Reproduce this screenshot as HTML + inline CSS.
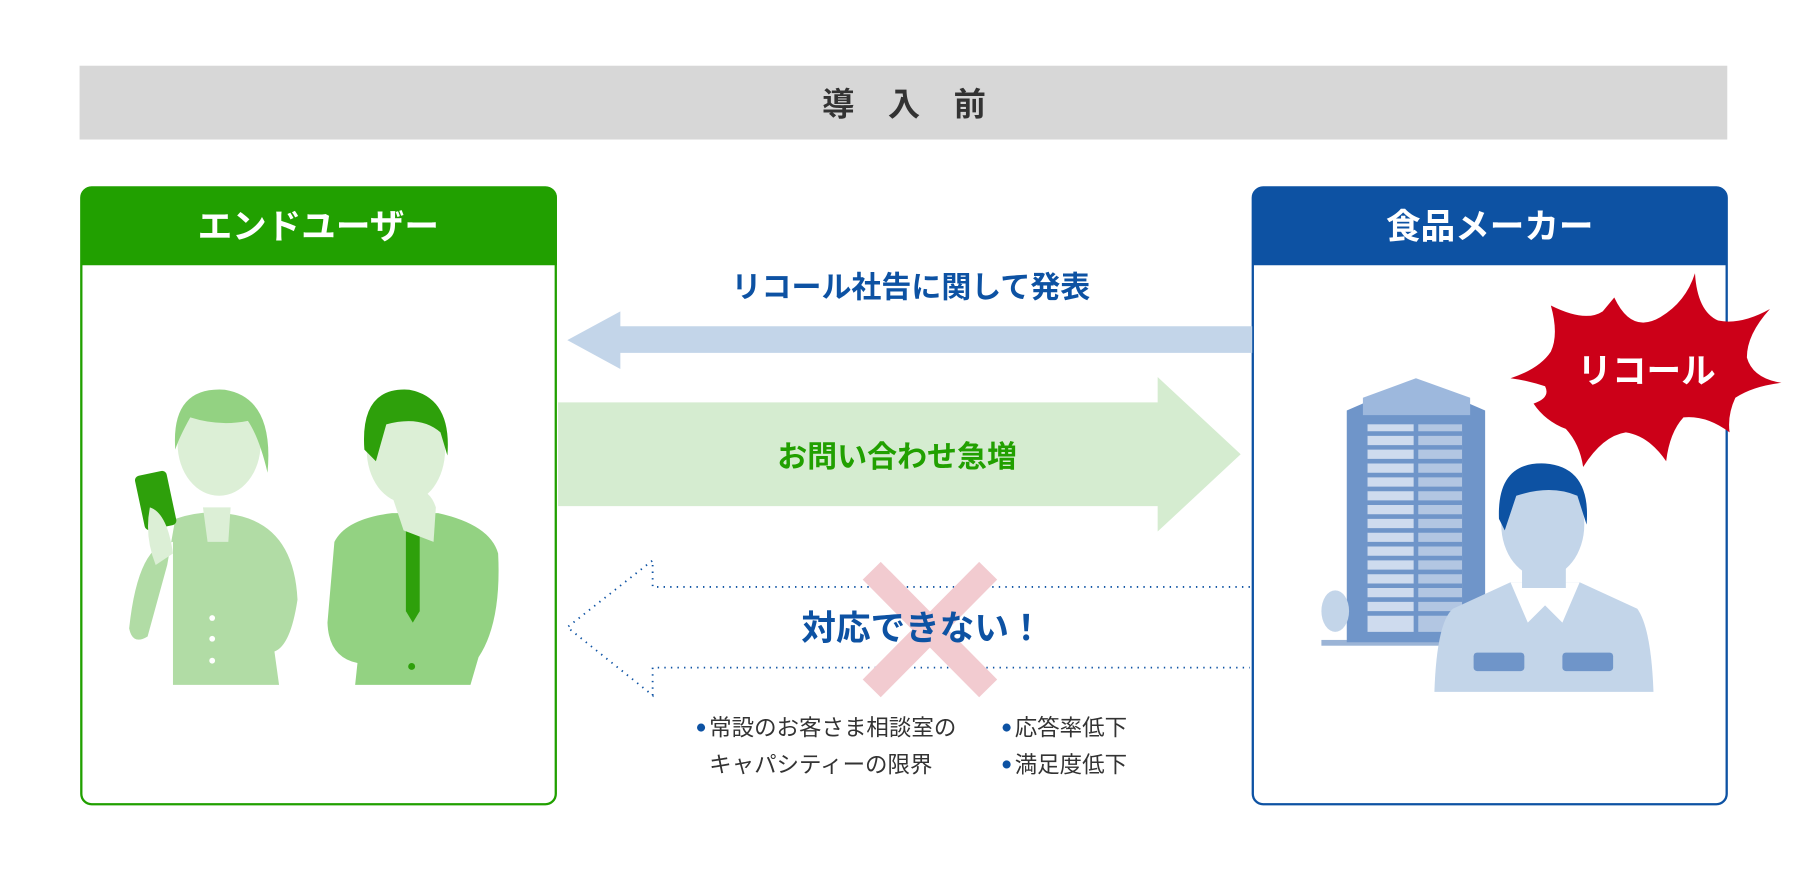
<!DOCTYPE html>
<html><head><meta charset="utf-8"><style>
html,body{margin:0;padding:0;background:#fff;width:1808px;height:880px;overflow:hidden}
svg{display:block}
text{font-family:"Liberation Sans","Noto Sans CJK JP",sans-serif}
</style></head><body>
<svg width="1808" height="880" viewBox="0 0 1568 763.2" xmlns="http://www.w3.org/2000/svg">
<rect x="69" y="57" width="1429" height="64" fill="#d7d7d7"/>
<text x="727" y="100" font-size="28" font-weight="bold" fill="#333" text-anchor="middle">導</text>
<text x="784" y="100" font-size="28" font-weight="bold" fill="#333" text-anchor="middle">入</text>
<text x="841" y="100" font-size="28" font-weight="bold" fill="#333" text-anchor="middle">前</text>

<!-- green box -->
<rect x="70.5" y="162.5" width="411.5" height="535" rx="9" fill="#fff" stroke="#21a000" stroke-width="2"/>
<path d="M70 230 V171 a9 9 0 0 1 9 -9 H474 a9 9 0 0 1 9 9 V230 Z" fill="#21a000"/>
<text x="276" y="207" font-size="30" font-weight="bold" fill="#fff" text-anchor="middle">エンドユーザー</text>

<!-- blue box -->
<rect x="1086.5" y="162.5" width="411" height="535" rx="9" fill="#fff" stroke="#0d52a3" stroke-width="2"/>
<path d="M1086 230 V171 a9 9 0 0 1 9 -9 H1489 a9 9 0 0 1 9 9 V230 Z" fill="#0d52a3"/>
<text x="1292" y="207" font-size="30" font-weight="bold" fill="#fff" text-anchor="middle">食品メーカー</text>

<!-- blue arrow -->
<text x="790" y="258" font-size="26" font-weight="bold" fill="#0d52a3" text-anchor="middle">リコール社告に関して発表</text>
<polygon points="1086,283 538,283 538,270 492,295 538,320 538,306 1086,306" fill="#c3d5e9"/>

<!-- green arrow -->
<polygon points="484,349 1004,349 1004,327 1076,394 1004,461 1004,439 484,439" fill="#d5ecd0"/>
<text x="778" y="405" font-size="26" font-weight="bold" fill="#21a000" text-anchor="middle">お問い合わせ急増</text>

<!-- dotted arrow -->
<g fill="none" stroke="#0d52a3" stroke-width="1.6" stroke-dasharray="1.2 4.5">
<path d="M1084 509 H566 V486 L492 544 L566 603 V579 H1084"/>
</g>
<g stroke="#f2cbd0" stroke-width="22">
<line x1="756" y1="495" x2="857" y2="597"/><line x1="857" y1="495" x2="756" y2="597"/>
</g>
<text x="800" y="555" font-size="30" font-weight="bold" fill="#0d52a3" text-anchor="middle">対応できない！</text>

<g font-size="19.5" fill="#333">
<circle cx="608" cy="631" r="3.5" fill="#0d52a3"/>
<text x="615" y="638">常設のお客さま相談室の</text>
<text x="615" y="670">キャパシティーの限界</text>
<circle cx="873" cy="631" r="3.5" fill="#0d52a3"/>
<text x="880" y="638">応答率低下</text>
<circle cx="873" cy="663" r="3.5" fill="#0d52a3"/>
<text x="880" y="670">満足度低下</text>
</g>

<!-- people left -->
<g>
<path d="M150 594 L150 470 Q120 470 112 545 Q115 560 128 552 L145 490 L152 450 Q180 440 210 448 Q255 460 258 520 Q252 560 238 565 L242 594 Z" fill="#b1dca5"/>
<ellipse cx="190" cy="385" rx="36" ry="45" fill="#dcefd6"/>
<path d="M152 390 Q148 335 195 338 Q238 345 232 410 Q225 380 215 365 Q190 370 165 362 Q155 380 152 390Z" fill="#93d282"/>
<path d="M176 440 L200 440 L198 470 L180 470Z" fill="#dcefd6"/>
<rect x="121" y="410" width="28" height="48" rx="4" fill="#2ea00b" transform="rotate(-12 135 434)"/>
<path d="M130 440 Q145 445 150 480 L135 490 Q125 465 130 440Z" fill="#dcefd6"/>
<circle cx="184" cy="536" r="2.5" fill="#fff"/><circle cx="184" cy="554" r="2.5" fill="#fff"/><circle cx="184" cy="573" r="2.5" fill="#fff"/>
</g>
<g>
<path d="M308 594 L310 575 Q285 570 284 540 L290 470 Q300 450 340 445 L380 445 Q425 455 432 480 Q435 540 415 570 L408 594 Z" fill="#93d282"/>
<polygon points="352,455 364,455 364,530 358,540 352,530" fill="#2ea00b"/>
<ellipse cx="352" cy="390" rx="34" ry="46" fill="#dcefd6"/>
<path d="M316 390 Q312 335 355 338 Q392 345 388 395 L382 375 Q365 360 335 368 L326 400Z" fill="#2ea00b"/>
<path d="M340 430 Q370 415 378 440 L376 470 L350 460Z" fill="#dcefd6"/>
<circle cx="357" cy="578" r="3" fill="#2ea00b"/>
</g>

<!-- building -->
<g>
<rect x="1146" y="555" width="110" height="5" fill="#9bb4d6"/>
<polygon points="1168,356 1228,330 1288,356 1288,557 1168,557" fill="#6f95c9"/>
<polygon points="1182,345 1228,328 1275,345 1275,360 1182,360" fill="#9db8dd"/>
<g fill="#dfe8f4">
<rect x="1186" y="368" width="40" height="180" opacity="0.85"/>
<rect x="1230" y="368" width="38" height="180" opacity="0.6"/>
</g>
<g stroke="#6f95c9" stroke-width="4">
<line x1="1186" y1="376" x2="1268" y2="376"/><line x1="1186" y1="388" x2="1268" y2="388"/><line x1="1186" y1="400" x2="1268" y2="400"/><line x1="1186" y1="412" x2="1268" y2="412"/><line x1="1186" y1="424" x2="1268" y2="424"/><line x1="1186" y1="436" x2="1268" y2="436"/><line x1="1186" y1="448" x2="1268" y2="448"/><line x1="1186" y1="460" x2="1268" y2="460"/><line x1="1186" y1="472" x2="1268" y2="472"/><line x1="1186" y1="484" x2="1268" y2="484"/><line x1="1186" y1="496" x2="1268" y2="496"/><line x1="1186" y1="508" x2="1268" y2="508"/><line x1="1186" y1="520" x2="1268" y2="520"/><line x1="1186" y1="532" x2="1268" y2="532"/>
</g>
<ellipse cx="1158" cy="530" rx="12" ry="18" fill="#c3d5e9"/>
</g>

<!-- worker -->
<g>
<path d="M1244 600 Q1246 540 1260 528 L1310 505 L1370 505 L1420 528 Q1432 545 1434 600 Z" fill="#c3d5e9"/>
<path d="M1310 505 L1325 540 L1340 525 L1355 540 L1370 505 Z" fill="#fff"/>
<rect x="1278" y="566" width="44" height="16" rx="3" fill="#6f95c9"/>
<rect x="1355" y="566" width="44" height="16" rx="3" fill="#6f95c9"/>
<path d="M1320 480 L1358 480 L1358 510 L1320 510Z" fill="#c3d5e9"/>
<ellipse cx="1338" cy="455" rx="36" ry="46" fill="#c3d5e9"/>
<path d="M1300 450 Q1298 400 1340 402 Q1380 405 1376 455 L1368 430 Q1345 420 1315 430 L1305 460Z" fill="#0d52a3"/>
</g>

<!-- starburst -->
<path d="M1400,258 Q1415,290 1440,275 Q1462,262 1470,237 Q1472,270 1490,278 Q1510,282 1535,268 Q1515,290 1515,310 Q1520,328 1545,332 Q1520,335 1505,345 Q1498,360 1500,375 Q1480,360 1460,362 Q1448,375 1445,400 Q1430,378 1410,375 Q1390,378 1373,405 Q1370,385 1358,372 Q1340,365 1330,350 Q1345,345 1340,335 Q1325,330 1310,328 Q1335,320 1345,305 Q1352,290 1345,265 Q1375,280 1390,270 Z" fill="#cc0018"/>
<text x="1428" y="332" font-size="30" font-weight="bold" fill="#fff" text-anchor="middle">リコール</text>
</svg>
</body></html>
